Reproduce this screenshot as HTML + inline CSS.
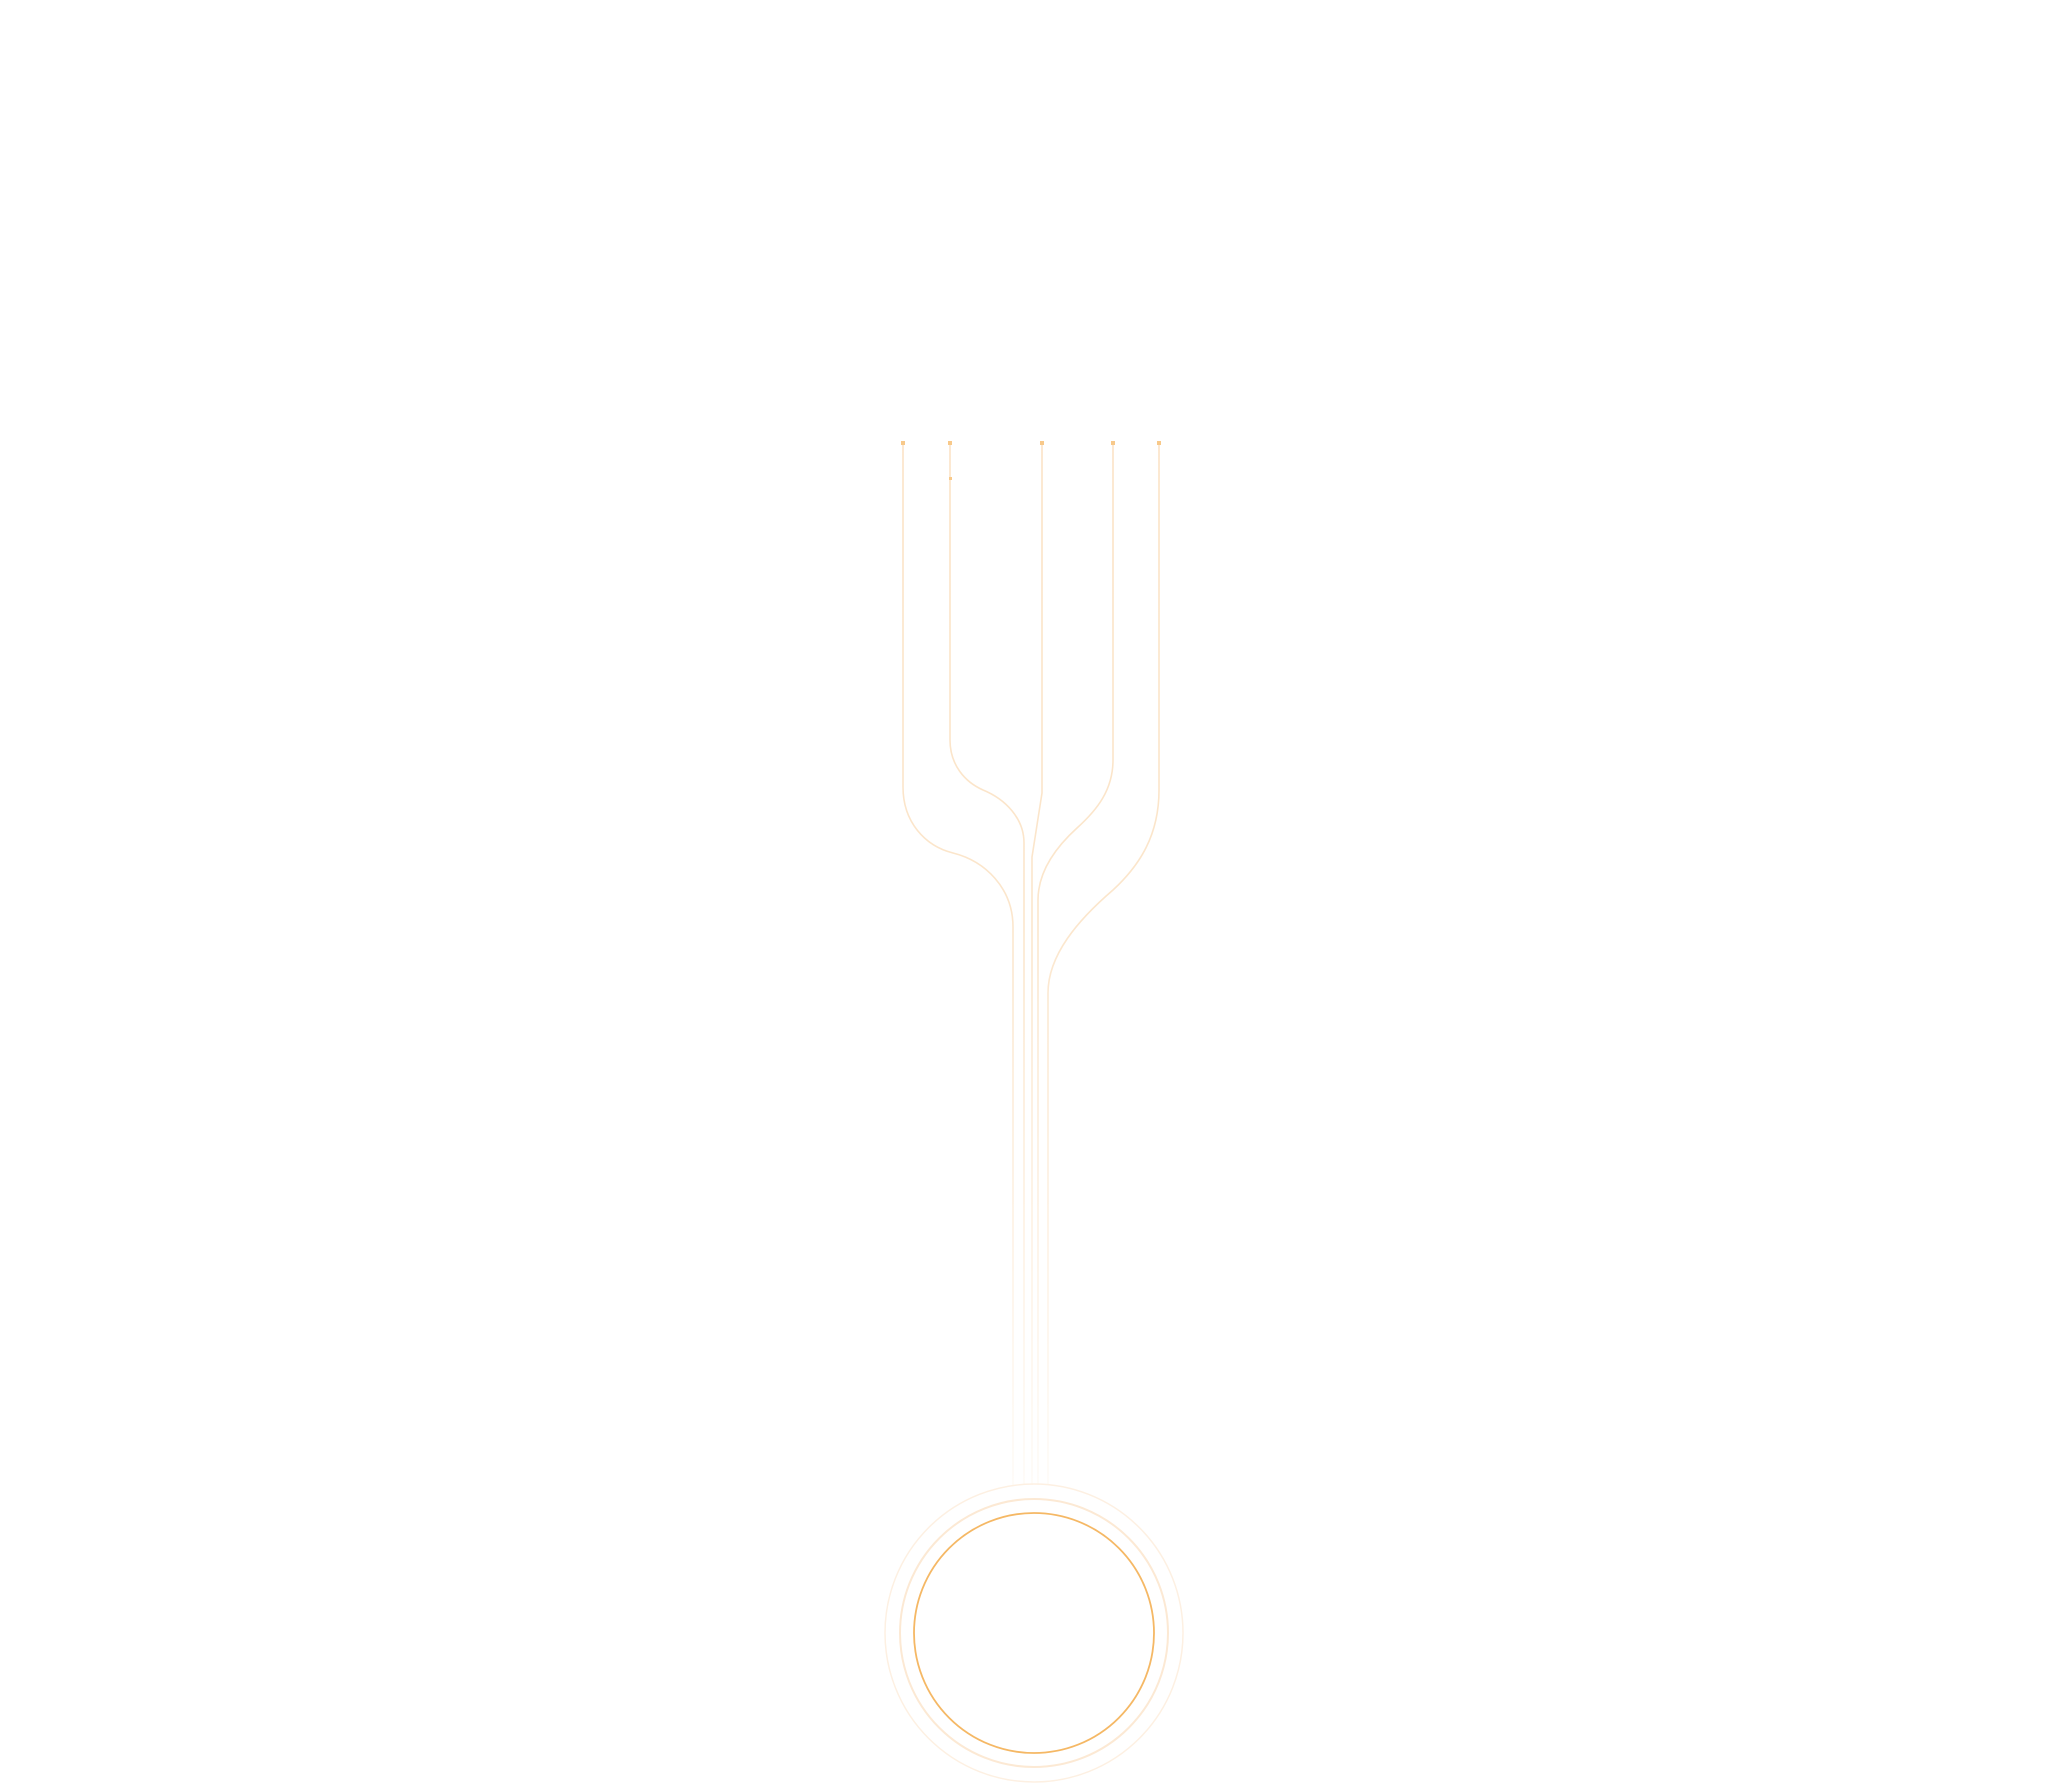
<!DOCTYPE html>
<html><head><style>html,body{margin:0;padding:0;background:#fff;}svg{display:block}</style></head>
<body>
<svg width="2048" height="1783" viewBox="0 0 2048 1783" xmlns="http://www.w3.org/2000/svg">
<defs>
<linearGradient id="fade" gradientUnits="userSpaceOnUse" x1="0" y1="443" x2="0" y2="1485">
<stop offset="0" stop-color="#fbe3c6" stop-opacity="1"/>
<stop offset="0.45" stop-color="#fbe3c6" stop-opacity="0.9"/>
<stop offset="1" stop-color="#fbe3c6" stop-opacity="0.15"/>
</linearGradient>
</defs>
<g fill="none" stroke="url(#fade)" stroke-width="1.6">
<path d="M903 443 V787 C903 822 925 846 953 853 C985 861 1013 888 1013 927 V1485"/>
<path d="M950 443 V740 C950 765 965 782 983 790 C1005 799 1024 818 1024 843 V1485"/>
<path d="M1042 443 V793 L1032 857 V1485"/>
<path d="M1113 443 V760 C1113 790 1097 810 1077 828 C1055 848 1038 872 1038 900 V1485"/>
<path d="M1159 443 V790 C1159 835 1140 865 1113 890 C1078 920 1048 955 1048 993 V1485"/>
</g>
<g fill="#f8c98a">
<rect x="901" y="441" width="4" height="4"/><rect x="948" y="441" width="4" height="4"/><rect x="1040" y="441" width="4" height="4"/><rect x="1111" y="441" width="4" height="4"/><rect x="1157" y="441" width="4" height="4"/>
<rect x="949" y="477" width="3" height="3"/>
</g>
<circle cx="1034" cy="1633" r="149" fill="none" stroke="#fdf0e2" stroke-width="1.5"/>
<circle cx="1034" cy="1633" r="134" fill="none" stroke="#fce9d4" stroke-width="2"/>
<circle cx="1034" cy="1633" r="120" fill="none" stroke="#f5b865" stroke-width="1.8"/>
</svg>
</body></html>
